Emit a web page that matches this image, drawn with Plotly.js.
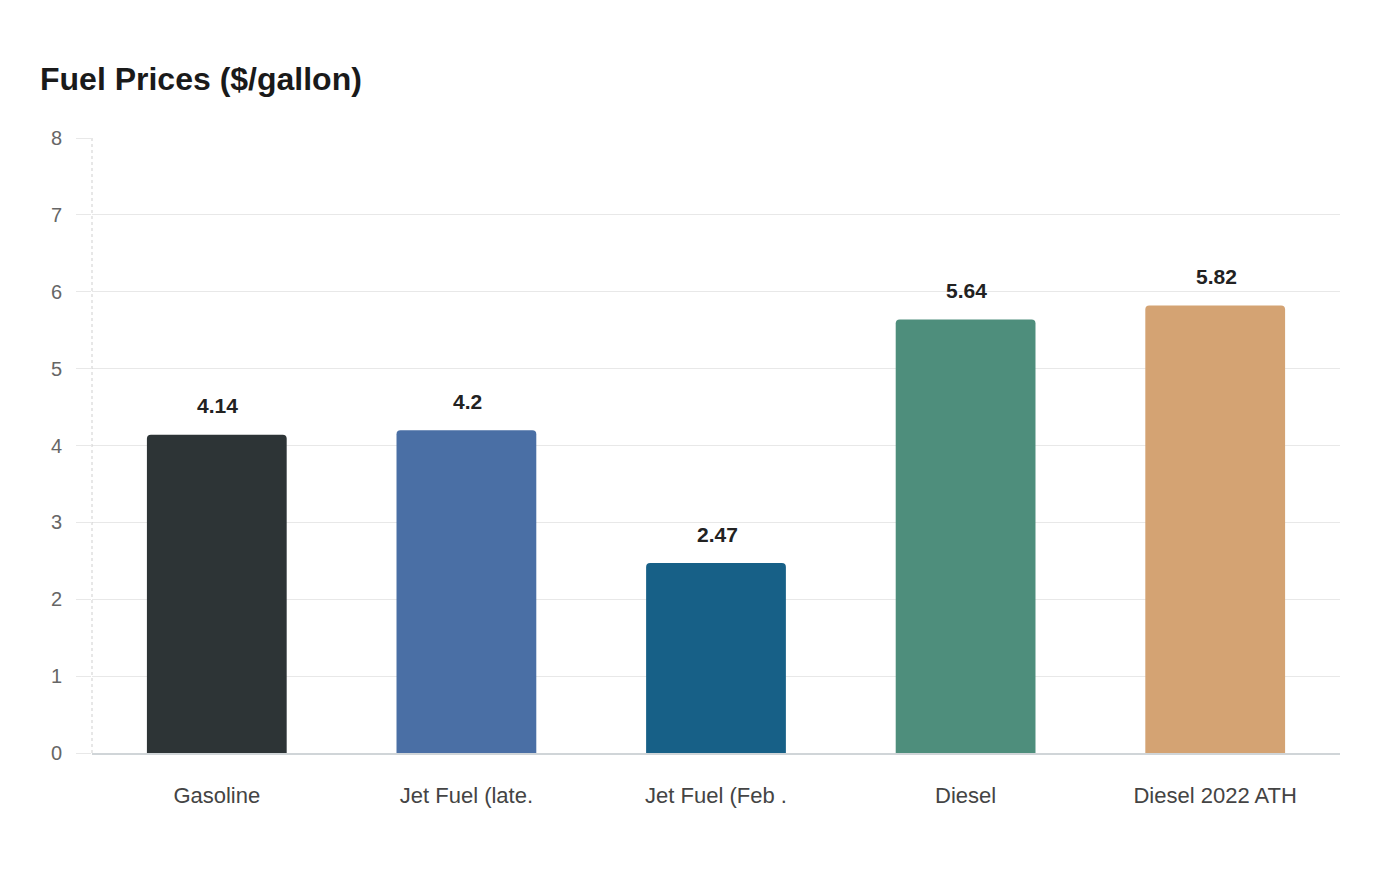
<!DOCTYPE html>
<html>
<head>
<meta charset="utf-8">
<script src="https://cdn.plot.ly/plotly-3.0.1.min.js"></script>
<style>
  html, body { margin: 0; padding: 0; background: #fff; }
  #graph { width: 1400px; height: 880px; }
</style>
</head>
<body>
<div id="graph"></div>
<script>
// Fuel prices chart data
const categories = ['Gasoline', 'Jet Fuel (late.', 'Jet Fuel (Feb .', 'Diesel', 'Diesel 2022 ATH'];
const prices = [4.14, 4.2, 2.47, 5.64, 5.82];
const priceLabels = ['4.14', '4.2', '2.47', '5.64', '5.82'];
const barColors = ['#2d3436', '#4a6fa5', '#176087', '#4e8e7c', '#d4a373'];
const yTicks = [0, 1, 2, 3, 4, 5, 6, 7, 8];

const fontFamily = 'Liberation Sans, Arial, sans-serif';

const trace = {
    x: categories,
    y: prices,
    type: 'bar',
    marker: {color: barColors, cornerradius: 4},
    hoverinfo: 'x+y'
};

// value labels sit a bit above each bar
const annotations = categories.map(function(c, i) {
    return {
        x: c,
        y: prices[i],
        text: priceLabels[i],
        showarrow: false,
        yanchor: 'middle',
        yshift: 29,
        xshift: 1,
        font: {family: fontFamily, size: 21, color: '#222', weight: 'bold'}
    };
});

const layout = {
    width: 1400,
    height: 880,
    paper_bgcolor: '#fff',
    plot_bgcolor: '#fff',
    margin: {l: 92, r: 60, t: 138, b: 127},
    bargap: 0.44,
    showlegend: false,
    title: {
        text: '<b>Fuel Prices ($/gallon)</b>',
        x: 40 / 1400,
        xanchor: 'left',
        y: 1 - 79 / 880,
        yanchor: 'middle',
        font: {family: fontFamily, size: 32, color: '#1a1a1a'}
    },
    xaxis: {
        type: 'category',
        showgrid: false,
        showline: true,
        linecolor: '#d0d5d8',
        linewidth: 1.5,
        ticks: '',
        ticklabelstandoff: 22,
        tickfont: {family: fontFamily, size: 22, color: '#444'}
    },
    yaxis: {
        range: [0, 8],
        tickvals: yTicks,
        showgrid: true,
        gridcolor: '#e8e8e8',
        gridwidth: 1,
        zeroline: false,
        showline: false,
        ticks: 'outside',
        ticklen: 15,
        tickcolor: '#e8e8e8',
        ticklabelstandoff: 10,
        tickfont: {family: fontFamily, size: 20, color: '#666'}
    },
    shapes: [{
        type: 'line',
        xref: 'paper', yref: 'paper',
        x0: 0, x1: 0, y0: 0, y1: 1,
        line: {color: '#cfcfcf', width: 1, dash: 'dot'}
    }],
    annotations: annotations
};

Plotly.newPlot('graph', [trace], layout, {displayModeBar: false});
</script>
</body>
</html>
